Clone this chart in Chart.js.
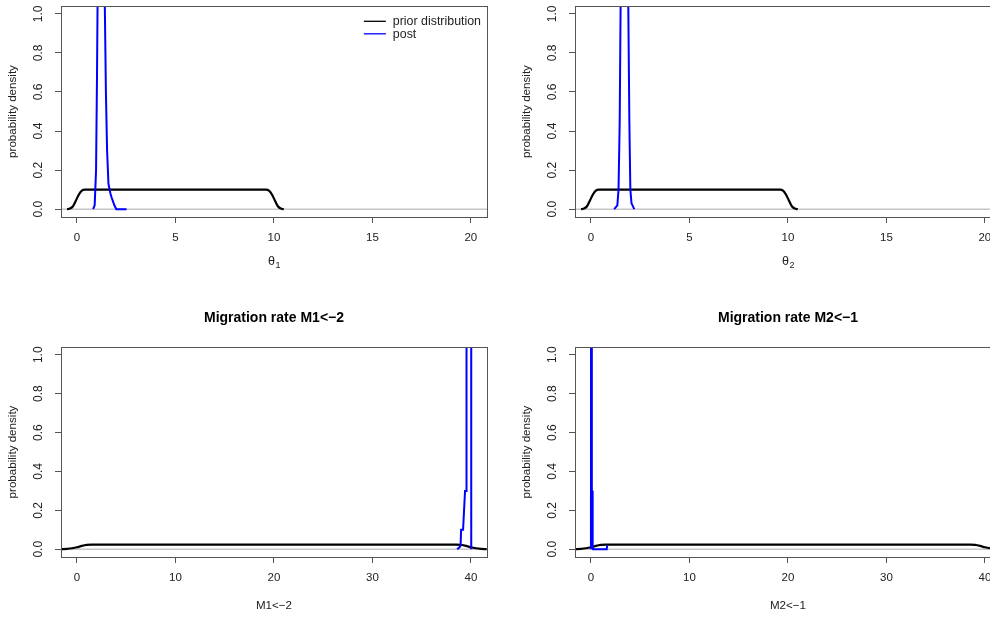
<!DOCTYPE html>
<html lang="en">
<head>
<meta charset="UTF-8">
<title>Prior and posterior densities</title>
<script src="https://cdn.jsdelivr.net/npm/chart.js"></script>
<style>
  html, body { margin: 0; padding: 0; background: #fff; overflow: hidden; }
  body { width: 990px; height: 617px; position: relative; }
  canvas { position: absolute; }
</style>
</head>
<body>
<canvas id="theta1" width="514" height="300" style="left:0;top:0"></canvas>
<canvas id="theta2" width="514" height="300" style="left:514px;top:0"></canvas>
<canvas id="m12" width="514" height="317" style="left:0;top:300px"></canvas>
<canvas id="m21" width="514" height="317" style="left:514px;top:300px"></canvas>

<script>
// tick values
const densityTicks = [0, 0.2, 0.4, 0.6, 0.8, 1.0];
const thetaTicks = [0, 5, 10, 15, 20];
const migTicks = [0, 10, 20, 30, 40];

// prior densities (uniform 0-10 and 0-40, smoothed)
const thetaPriorX = [-0.5, -0.35, -0.2, -0.05, 0.1, 0.25, 0.4, 2, 4, 6, 8, 9.6, 9.75, 9.9, 10.05, 10.2, 10.35, 10.5];
const thetaPriorY = [0, 0.003, 0.015, 0.045, 0.075, 0.095, 0.1, 0.1, 0.1, 0.1, 0.1, 0.1, 0.095, 0.075, 0.045, 0.015, 0.003, 0];
const migPriorX = [-1.6, -1, -0.5, 0, 0.5, 1, 1.5, 10, 20, 30, 38.5, 39, 39.5, 40, 40.5, 41, 41.6];
const migPriorY = [0.0005, 0.002, 0.005, 0.01, 0.017, 0.022, 0.024, 0.024, 0.024, 0.024, 0.024, 0.022, 0.017, 0.01, 0.005, 0.002, 0.0005];

// posterior densities
const theta1PostX = [0.82, 0.9, 0.97, 1.02, 1.08, 1.2, 1.35, 1.42, 1.47, 1.53, 1.6, 1.64, 1.7, 1.76, 1.83, 1.9, 2.0, 2.3, 2.52];
const theta1PostY = [0, 0.02, 0.2, 0.7, 1.5, 2.6, 1.5, 1.0, 0.6, 0.3, 0.13, 0.11, 0.08, 0.06, 0.04, 0.02, 0, 0, 0];
const theta2PostX = [1.18, 1.34, 1.4, 1.46, 1.51, 1.7, 1.89, 1.95, 2.0, 2.06, 2.2];
const theta2PostY = [0, 0.02, 0.1, 0.45, 1.1, 2.6, 1.1, 0.45, 0.1, 0.03, 0];
const m12PostX = [38.6, 38.85, 38.95, 39.0, 39.2, 39.3, 39.4, 39.5, 39.55, 39.8, 40.02, 40.03];
const m12PostY = [0, 0.01, 0.02, 0.1, 0.1, 0.2, 0.3, 0.3, 1.2, 2.5, 2.5, 0];
const m21PostX = [0, 0.02, 0.08, 0.1, 0.12, 0.15, 0.17, 0.2, 0.22, 1.6, 1.65];
const m21PostY = [0, 2.5, 2.5, 0.3, 0.3, 0.1, 0.02, 0.02, 0, 0, 0.02];

const FONT = '"Liberation Sans", Arial, Helvetica, sans-serif';
const AXIS = '#555';
const TEXT = '#222';

function toPoints(xs, ys) {
  return xs.map((x, i) => ({ x: x, y: ys[i] }));
}

// box, zero line, rotated y labels, titles, legend (R-style decorations)
const panelDecor = {
  id: 'panelDecor',
  beforeDatasetsDraw(chart) {
    const { ctx, chartArea: a, scales: { y } } = chart;
    const y0 = y.getPixelForValue(0);
    ctx.save();
    ctx.strokeStyle = '#c6c6c6';
    ctx.lineWidth = 1.5;
    ctx.beginPath();
    ctx.moveTo(a.left, y0);
    ctx.lineTo(a.right, y0);
    ctx.stroke();
    ctx.restore();
  },
  afterDraw(chart, args, opts) {
    const { ctx, chartArea: a, scales: { y } } = chart;
    ctx.save();
    ctx.strokeStyle = AXIS;
    ctx.lineWidth = 1;
    ctx.strokeRect(Math.round(a.left) + 0.5, Math.round(a.top) + 0.5,
      Math.round(a.right - a.left), Math.round(a.bottom - a.top));

    ctx.fillStyle = TEXT;
    ctx.font = '12px ' + FONT;
    ctx.textAlign = 'center';
    ctx.textBaseline = 'middle';
    y.ticks.forEach(t => {
      const py = y.getPixelForValue(t.value);
      ctx.save();
      ctx.translate(a.left - 22, py);
      ctx.rotate(-Math.PI / 2);
      ctx.fillText(t.value.toFixed(1), 0, 0);
      ctx.restore();
    });

    // y axis title
    ctx.font = '11.6px ' + FONT;
    ctx.save();
    ctx.translate(a.left - 48, (a.top + a.bottom) / 2);
    ctx.rotate(-Math.PI / 2);
    ctx.fillText('probability density', 0, 0);
    ctx.restore();

    // x axis title (with optional subscript)
    const cx = (a.left + a.right) / 2;
    const ty = a.bottom + (opts.sub ? 45 : 48.5);
    ctx.font = (opts.sub ? '12.5px ' : '11.6px ') + FONT;
    const w1 = ctx.measureText(opts.xlabel).width;
    let w2 = 0;
    if (opts.sub) {
      ctx.font = '9px ' + FONT;
      w2 = ctx.measureText(opts.sub).width;
    }
    ctx.textAlign = 'left';
    ctx.font = (opts.sub ? '12.5px ' : '11.6px ') + FONT;
    const sx = cx - (w1 + w2) / 2;
    ctx.fillText(opts.xlabel, sx, ty);
    if (opts.sub) {
      ctx.font = '9px ' + FONT;
      ctx.fillText(opts.sub, sx + w1 + 0.5, ty + 3.5);
    }

    // main title
    if (opts.title) {
      ctx.font = 'bold 14px ' + FONT;
      ctx.textAlign = 'center';
      ctx.fillStyle = '#000';
      ctx.fillText(opts.title, cx, a.top - 29);
    }

    // legend, top right, no box
    if (opts.legend) {
      ctx.font = '12.4px ' + FONT;
      ctx.textAlign = 'left';
      ctx.fillStyle = TEXT;
      const sets = chart.data.datasets;
      const maxW = Math.max(...sets.map(d => ctx.measureText(d.label).width));
      const textX = a.right - 6 - maxW;
      sets.forEach((d, i) => {
        const ly = a.top + 15.3 + i * 12.5;
        ctx.strokeStyle = d.borderColor;
        ctx.lineWidth = 1.3;
        ctx.beginPath();
        ctx.moveTo(textX - 29, ly);
        ctx.lineTo(textX - 7, ly);
        ctx.stroke();
        ctx.fillText(d.label, textX, a.top + 15.5 + i * 13.5);
      });
    }
    ctx.restore();
  }
};

function makePanel(id, cfg) {
  return new Chart(document.getElementById(id), {
    type: 'line',
    data: {
      datasets: [
        {
          label: 'prior distribution',
          data: toPoints(cfg.priorX, cfg.priorY),
          borderColor: '#000000',
          borderWidth: 2.2,
          pointRadius: 0,
          cubicInterpolationMode: 'monotone',
          clip: 0,
          order: 1
        },
        {
          label: 'post',
          data: toPoints(cfg.postX, cfg.postY),
          borderColor: '#0000ff',
          borderWidth: 2,
          pointRadius: 0,
          tension: 0,
          clip: 0,
          order: 0
        }
      ]
    },
    options: {
      responsive: false,
      animation: false,
      layout: { padding: { top: cfg.top, right: 27, left: 0, bottom: 0 } },
      scales: {
        x: {
          type: 'linear',
          min: cfg.xmin,
          max: cfg.xmax,
          afterBuildTicks: s => { s.ticks = cfg.xticks.map(v => ({ value: v })); },
          afterFit: s => { s.height = cfg.height - cfg.top - 211 + (cfg.top > 10 ? 1 : 0); },
          border: { display: false },
          grid: { drawOnChartArea: false, drawTicks: true, tickLength: 6, tickColor: AXIS, color: AXIS },
          ticks: {
            autoSkip: false, maxRotation: 0, padding: 8, color: TEXT,
            font: { family: FONT, size: 11.5 },
            callback: v => String(v)
          }
        },
        y: {
          type: 'linear',
          min: -0.04,
          max: 1.04,
          afterBuildTicks: s => { s.ticks = densityTicks.map(v => ({ value: v })); },
          afterFit: s => { s.width = 61; },
          border: { display: false },
          grid: { drawOnChartArea: false, drawTicks: true, tickLength: 6, tickColor: AXIS, color: AXIS },
          ticks: { display: false }
        }
      },
      plugins: {
        legend: { display: false },
        tooltip: { enabled: false },
        panelDecor: { title: cfg.title, xlabel: cfg.xlabel, sub: cfg.sub, legend: cfg.legend }
      }
    },
    plugins: [panelDecor]
  });
}

makePanel('theta1', {
  priorX: thetaPriorX, priorY: thetaPriorY, postX: theta1PostX, postY: theta1PostY,
  xmin: -0.81, xmax: 20.82, xticks: thetaTicks, top: 6, height: 300,
  xlabel: 'θ', sub: '1', legend: true
});
makePanel('theta2', {
  priorX: thetaPriorX, priorY: thetaPriorY, postX: theta2PostX, postY: theta2PostY,
  xmin: -0.81, xmax: 20.82, xticks: thetaTicks, top: 6, height: 300,
  xlabel: 'θ', sub: '2'
});
makePanel('m12', {
  priorX: migPriorX, priorY: migPriorY, postX: m12PostX, postY: m12PostY,
  xmin: -1.62, xmax: 41.63, xticks: migTicks, top: 47, height: 317,
  xlabel: 'M1<−2', title: 'Migration rate M1<−2'
});
makePanel('m21', {
  priorX: migPriorX, priorY: migPriorY, postX: m21PostX, postY: m21PostY,
  xmin: -1.62, xmax: 41.63, xticks: migTicks, top: 47, height: 317,
  xlabel: 'M2<−1', title: 'Migration rate M2<−1'
});
</script>
</body>
</html>
